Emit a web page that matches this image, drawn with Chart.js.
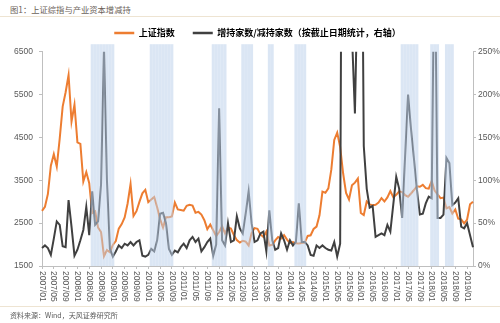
<!DOCTYPE html>
<html>
<head>
<meta charset="utf-8">
<script src="https://cdn.jsdelivr.net/npm/chart.js@4.4.1/dist/chart.umd.min.js"></script>
<style>
  html, body { margin: 0; padding: 0; background: #fff; }
  #wrap { position: relative; width: 500px; height: 323px; overflow: hidden; }
  #chart { position: absolute; left: 0; top: 0; }
  .title { position: absolute; left: 10px; top: 3px; font: 8.3px "Noto Sans CJK SC"; color: #6b6158; white-space: nowrap; }
  .source { position: absolute; left: 10px; top: 310px; font: 7px "Noto Sans CJK SC"; color: #595959; white-space: nowrap; }
  .rule { position: absolute; left: 0; width: 500px; height: 1px; background: #eee4d2; }
</style>
</head>
<body>
<div id="wrap">
  <div class="title">图1：上证综指与产业资本增减持</div>
  <div class="rule" style="top:16px"></div>
  <canvas id="chart" width="500" height="323"></canvas>
  <div class="rule" style="top:306px"></div>
  <div class="source">资料来源：Wind，天风证券研究所</div>
</div>
<script>
// monthly categories 2007/01 .. 2019/03
const months = [];
for (let y = 2007; y <= 2019; y++) {
    for (let m = 1; m <= 12; m++) {
        if (y === 2019 && m > 3) break;
        months.push(y + "/" + (m < 10 ? "0" + m : m));
    }
}

// 上证指数 (month end)
const sseIndex = [
    2786, 2881, 3183, 3841, 4109, 3821, 4471, 5219, 5553, 5955, 4871, 5262,
    4383, 4348, 3473, 3693, 3433, 2736, 2776, 2397, 2293, 1729, 1871, 1821,
    1991, 2082, 2373, 2478, 2633, 2959, 3412, 2667, 2779, 2996, 3195, 3277,
    2989, 3051, 3109, 2871, 2592, 2398, 2638, 2638, 2656, 2979, 2820, 2808,
    2791, 2905, 2928, 2911, 2743, 2762, 2701, 2568, 2359, 2469, 2333, 2199,
    2293, 2429, 2263, 2397, 2373, 2225, 2103, 2048, 2086, 2069, 1980, 2269,
    2385, 2366, 2237, 2178, 2301, 1979, 1994, 2098, 2175, 2141, 2221, 2116,
    2033, 2056, 2033, 2026, 2039, 2048, 2202, 2217, 2364, 2420, 2683, 3235,
    3210, 3310, 3748, 4442, 4612, 4277, 3664, 3206, 3053, 3383, 3445, 3539,
    2738, 2688, 3004, 2938, 2917, 2930, 2979, 3085, 3005, 3100, 3250, 3104,
    3159, 3242, 3223, 3155, 3117, 3192, 3273, 3361, 3349, 3393, 3317, 3307,
    3481, 3259, 3169, 3082, 3095, 2847, 2876, 2725, 2821, 2603, 2588, 2494,
    2585, 2941, 3000
];

// 增持家数/减持家数, % (right axis)
const holdRatio = [
    21, 24, 21, 13, 32, 52, 48, 23, 22, 77, 46, 12,
    19, 30, 42, 69, 36, 87, 48, 52, 95, 255, 100, 20,
    11, 17, 24, 21, 26, 24, 28, 24, 28, 30, 12, 11,
    13, 20, 17, 30, 61, 62, 50, 20, 13, 18, 16, 22,
    26, 21, 30, 34, 28, 32, 17, 22, 28, 32, 12, 25,
    184, 30, 24, 50, 28, 30, 58, 44, 38, 61, 87, 50,
    28, 30, 38, 40, 17, 65, 30, 19, 21, 38, 30, 19,
    30, 24, 28, 73, 28, 28, 24, 13, 12, 24, 21, 24,
    21, 19, 18, 28, 11, 26, 850, 900, 700, 270, 178, 350,
    600, 140, 90, 68, 70, 34, 36, 38, 36, 48, 40, 72,
    104, 90, 56, 128, 200, 160, 125, 89, 60, 61, 73, 81,
    79, 400, 56, 56, 60, 126, 120, 71, 74, 79, 46, 44,
    50, 36, 22
];

// shaded periods (first month, last month)
const shadedPeriods = [
    ["2008/06", "2009/01"],
    ["2010/02", "2010/09"],
    ["2011/11", "2012/03"],
    ["2012/09", "2012/12"],
    ["2013/06", "2013/07"],
    ["2014/03", "2014/06"],
    ["2017/03", "2017/08"],
    ["2018/01", "2018/03"],
    ["2018/06", "2018/08"]
];

const leftTicks = [1500, 2500, 3500, 4500, 5500, 6500];
const rightTicks = [0, 50, 100, 150, 200, 250];

const bandValues = months.map(function (m) {
    const inside = shadedPeriods.some(function (p) { return m >= p[0] && m <= p[1]; });
    return inside ? 1.035 : null;
});

const tickFont = { family: "'Liberation Sans', Arial", size: 8.5 };
const axisGray = "#bfbfbf";

// x labels read top-to-bottom, so draw them ourselves at the scale's tick pixels
const monthLabels = {
    id: "monthLabels",
    afterDraw(chart) {
        const xs = chart.scales.x;
        const ctx = chart.ctx;
        ctx.save();
        ctx.font = "8.5px 'Liberation Sans', Arial";
        ctx.fillStyle = "#595959";
        ctx.textAlign = "left";
        ctx.textBaseline = "middle";
        months.forEach(function (m, i) {
            if (i % 4 !== 0) return;
            ctx.save();
            ctx.translate(xs.getPixelForTick(i), xs.top + 5);
            ctx.rotate(Math.PI / 2);
            ctx.fillText(m, 0, 0);
            ctx.restore();
        });
        ctx.restore();
    }
};

const config = {
    type: "line",
    data: {
        labels: months,
        datasets: [
            {
                label: "上证指数",
                data: sseIndex,
                yAxisID: "y",
                borderColor: "#ed7d31",
                backgroundColor: "#ed7d31",
                borderWidth: 2,
                pointRadius: 0,
                tension: 0,
                order: 2
            },
            {
                label: "增持家数/减持家数（按截止日期统计，右轴）",
                data: holdRatio,
                yAxisID: "y1",
                borderColor: "#404040",
                backgroundColor: "#404040",
                borderWidth: 2,
                pointRadius: 0,
                tension: 0,
                order: 1
            },
            {
                type: "bar",
                label: "shade",
                data: bandValues,
                yAxisID: "yb",
                backgroundColor: "rgba(190, 210, 235, 0.55)",
                borderWidth: 0,
                barPercentage: 1,
                categoryPercentage: 1,
                inflateAmount: 0,
                clip: false,
                order: 0
            }
        ]
    },
    options: {
        responsive: false,
        animation: false,
        layout: { padding: { left: 0, right: 0, top: 10.5, bottom: 0 } },
        plugins: {
            tooltip: { enabled: false },
            legend: {
                position: "top",
                fullSize: false,
                labels: {
                    boxWidth: 20,
                    boxHeight: 2.5,
                    padding: 18,
                    color: "#000",
                    font: { family: "'Noto Sans CJK SC'", size: 9, weight: "bold" },
                    sort: function (a, b) { return a.datasetIndex - b.datasetIndex; },
                    generateLabels: function (chart) {
                        return Chart.defaults.plugins.legend.labels.generateLabels(chart)
                            .filter(function (l) { return l.datasetIndex < 2; })
                            .map(function (l) { l.lineWidth = 0; return l; });
                    }
                }
            },
            subtitle: {
                display: true,
                text: "",
                position: "top",
                weight: 500,
                font: { size: 1 },
                padding: { top: 0, bottom: 3 }
            }
        },
        scales: {
            x: {
                offset: false,
                ticks: { display: false },
                grid: {
                    offset: false,
                    drawOnChartArea: false,
                    drawTicks: true,
                    tickLength: 3,
                    color: function (c) { return c.index % 4 === 0 ? axisGray : "rgba(0,0,0,0)"; }
                },
                border: { display: true, color: axisGray },
                afterFit: function (s) { s.height = 57; }
            },
            y: {
                position: "left",
                min: leftTicks[0],
                max: leftTicks[leftTicks.length - 1],
                afterBuildTicks: function (s) { s.ticks = leftTicks.map(function (v) { return { value: v }; }); },
                ticks: {
                    font: tickFont,
                    color: "#595959",
                    padding: 6,
                    callback: function (v) { return String(v); }
                },
                grid: { drawOnChartArea: false, drawTicks: true, tickLength: 3, color: axisGray },
                border: { display: true, color: axisGray },
                afterFit: function (s) { s.width = 42; }
            },
            y1: {
                position: "right",
                min: rightTicks[0],
                max: rightTicks[rightTicks.length - 1],
                afterBuildTicks: function (s) { s.ticks = rightTicks.map(function (v) { return { value: v }; }); },
                ticks: {
                    font: tickFont,
                    color: "#595959",
                    padding: 2,
                    callback: function (v) { return v + "%"; }
                },
                grid: { drawOnChartArea: false, drawTicks: true, tickLength: 3, color: axisGray },
                border: { display: true, color: axisGray },
                afterFit: function (s) { s.width = 27; }
            },
            yb: {
                display: false,
                min: 0,
                max: 1
            }
        }
    },
    plugins: [monthLabels]
};

new Chart(document.getElementById("chart"), config);
</script>
</body>
</html>
